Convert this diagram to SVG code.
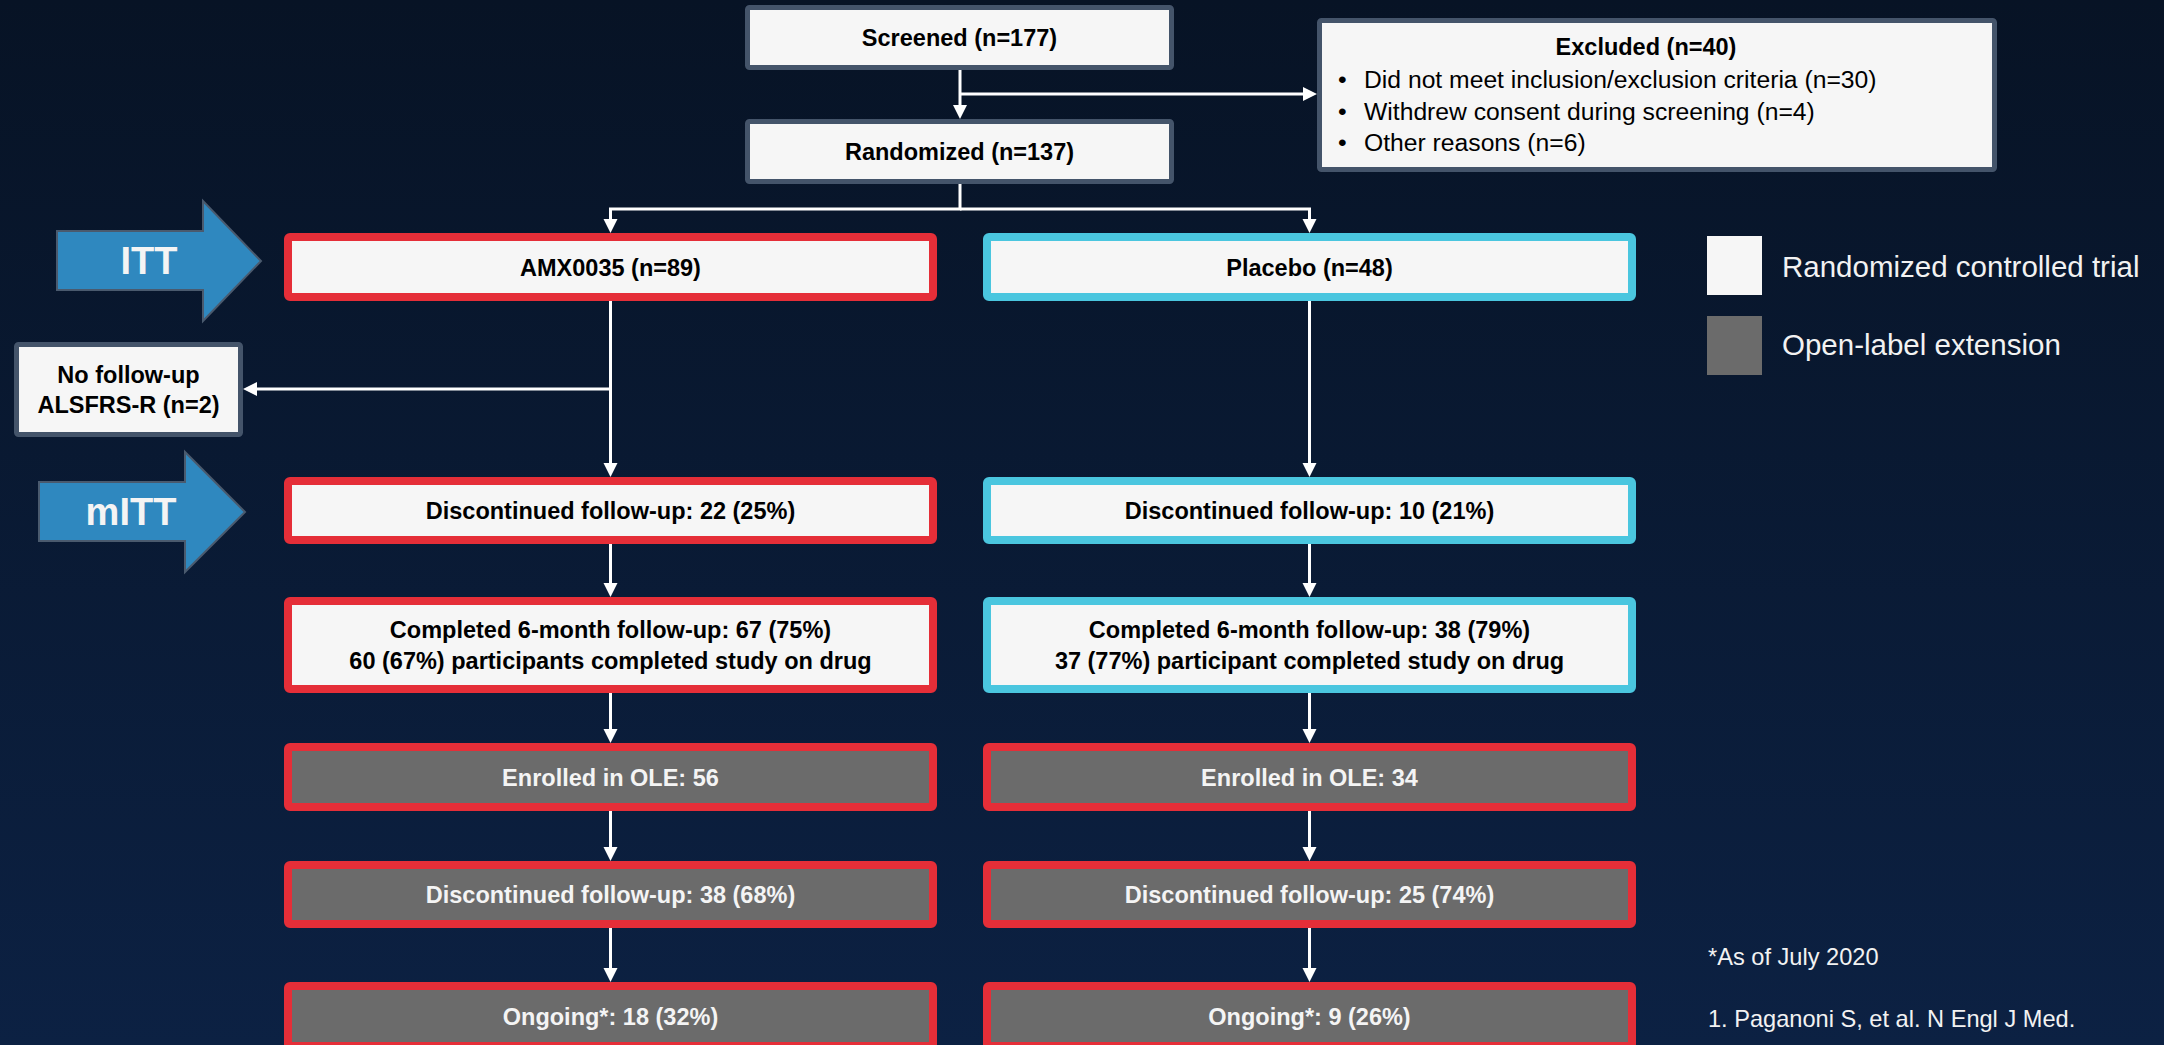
<svg xmlns="http://www.w3.org/2000/svg" width="2164" height="1045" viewBox="0 0 2164 1045">
<defs>
<linearGradient id="bg" x1="0" y1="0" x2="0" y2="1">
<stop offset="0" stop-color="#071325"/>
<stop offset="1" stop-color="#0c2143"/>
</linearGradient>
<marker id="ah" markerUnits="userSpaceOnUse" markerWidth="16" markerHeight="16" refX="8" refY="7" orient="auto">
<path d="M0,0 L14,7 L0,14 z" fill="#ffffff"/>
</marker>
<style>
text{font-family:"Liberation Sans",Arial,sans-serif}
.b{font-weight:bold;font-size:23.5px;text-anchor:middle}
.dk{fill:#000000}
.lt{fill:#f4f4f4}
.gbox{fill:#f6f6f6;stroke:#44546a;stroke-width:5}
.rw{fill:#f6f6f6;stroke:#e52e38;stroke-width:8}
.cw{fill:#f6f6f6;stroke:#4ac6df;stroke-width:8}
.rg{fill:#6b6b6b;stroke:#e52e38;stroke-width:8}
.conn{fill:none;stroke:#ffffff;stroke-width:3;marker-end:url(#ah)}
.blk{fill:#2f88bf;stroke:#4a5a6e;stroke-width:2}
.big{font-weight:bold;font-size:38px;fill:#f4f4f4;text-anchor:middle}
.reg{font-size:24.7px;fill:#000000}
.leg{font-size:29.5px;fill:#f2f2f2}
.fn{font-size:23.6px;fill:#f2f2f2}
</style>
</defs>
<rect x="0" y="0" width="2164" height="1045" fill="url(#bg)"/>

<g id="connectors">
<path class="conn" d="M960,70 V113"/>
<path class="conn" d="M960,94 H1311"/>
<path class="conn" d="M960,184 V209 H610.5 V227"/>
<path class="conn" d="M960,209 H1309.5 V227"/>
<path class="conn" d="M610.5,301 V471"/>
<path class="conn" d="M610.5,389 H249"/>
<path class="conn" d="M610.5,544 V591"/>
<path class="conn" d="M610.5,693 V737"/>
<path class="conn" d="M610.5,811 V855"/>
<path class="conn" d="M610.5,928 V976"/>
<path class="conn" d="M1309.5,301 V471"/>
<path class="conn" d="M1309.5,544 V591"/>
<path class="conn" d="M1309.5,693 V737"/>
<path class="conn" d="M1309.5,811 V855"/>
<path class="conn" d="M1309.5,928 V976"/>
</g>

<g id="screened">
<rect class="gbox" x="747.5" y="7.5" width="424" height="60" rx="2"/>
<text class="b dk" x="959.5" y="46">Screened (n=177)</text>
</g>
<g id="randomized">
<rect class="gbox" x="747.5" y="121.5" width="424" height="60" rx="2"/>
<text class="b dk" x="959.5" y="160">Randomized (n=137)</text>
</g>
<g id="excluded">
<rect class="gbox" x="1319.5" y="20.5" width="675" height="149" rx="2"/>
<text class="b dk" x="1646" y="55">Excluded (n=40)</text>
<text class="reg" x="1338" y="88">•</text>
<text class="reg" x="1364" y="88">Did not meet inclusion/exclusion criteria (n=30)</text>
<text class="reg" x="1338" y="119.5">•</text>
<text class="reg" x="1364" y="119.5">Withdrew consent during screening (n=4)</text>
<text class="reg" x="1338" y="151">•</text>
<text class="reg" x="1364" y="151">Other reasons (n=6)</text>
</g>

<g id="itt">
<polygon class="blk" points="57,231 203,231 203,201 261,261 203,321 203,290 57,290"/>
<text class="big" x="149" y="274">ITT</text>
</g>
<g id="mitt">
<polygon class="blk" points="39,482 185,482 185,452 245,512 185,572 185,541 39,541"/>
<text class="big" x="131" y="525">mITT</text>
</g>

<g id="nofollowup">
<rect class="gbox" x="16.5" y="344.5" width="224" height="90" rx="2"/>
<text class="b dk" x="128.5" y="383">No follow-up</text>
<text class="b dk" x="128.5" y="413">ALSFRS-R (n=2)</text>
</g>

<g id="amx">
<rect class="rw" x="288" y="237" width="645" height="60" rx="2"/>
<text class="b dk" x="610.5" y="275.5">AMX0035 (n=89)</text>
</g>
<g id="placebo">
<rect class="cw" x="987" y="237" width="645" height="60" rx="2"/>
<text class="b dk" x="1309.5" y="275.5">Placebo (n=48)</text>
</g>
<g id="amx-disc">
<rect class="rw" x="288" y="481" width="645" height="59" rx="2"/>
<text class="b dk" x="610.5" y="519">Discontinued follow-up: 22 (25%)</text>
</g>
<g id="pbo-disc">
<rect class="cw" x="987" y="481" width="645" height="59" rx="2"/>
<text class="b dk" x="1309.5" y="519">Discontinued follow-up: 10 (21%)</text>
</g>
<g id="amx-comp">
<rect class="rw" x="288" y="601" width="645" height="88" rx="2"/>
<text class="b dk" x="610.5" y="638">Completed 6-month follow-up: 67 (75%)</text>
<text class="b dk" x="610.5" y="669">60 (67%) participants completed study on drug</text>
</g>
<g id="pbo-comp">
<rect class="cw" x="987" y="601" width="645" height="88" rx="2"/>
<text class="b dk" x="1309.5" y="638">Completed 6-month follow-up: 38 (79%)</text>
<text class="b dk" x="1309.5" y="669">37 (77%) participant completed study on drug</text>
</g>
<g id="amx-ole">
<rect class="rg" x="288" y="747" width="645" height="60" rx="2"/>
<text class="b lt" x="610.5" y="785.5">Enrolled in OLE: 56</text>
</g>
<g id="pbo-ole">
<rect class="rg" x="987" y="747" width="645" height="60" rx="2"/>
<text class="b lt" x="1309.5" y="785.5">Enrolled in OLE: 34</text>
</g>
<g id="amx-ole-disc">
<rect class="rg" x="288" y="865" width="645" height="59" rx="2"/>
<text class="b lt" x="610.5" y="903">Discontinued follow-up: 38 (68%)</text>
</g>
<g id="pbo-ole-disc">
<rect class="rg" x="987" y="865" width="645" height="59" rx="2"/>
<text class="b lt" x="1309.5" y="903">Discontinued follow-up: 25 (74%)</text>
</g>
<g id="amx-ongoing">
<rect class="rg" x="288" y="986" width="645" height="60" rx="2"/>
<text class="b lt" x="610.5" y="1024.5">Ongoing*: 18 (32%)</text>
</g>
<g id="pbo-ongoing">
<rect class="rg" x="987" y="986" width="645" height="60" rx="2"/>
<text class="b lt" x="1309.5" y="1024.5">Ongoing*: 9 (26%)</text>
</g>

<g id="legend">
<rect x="1707" y="236" width="55" height="59" fill="#f6f6f6"/>
<text class="leg" x="1782" y="277">Randomized controlled trial</text>
<rect x="1707" y="316" width="55" height="59" fill="#6b6b6b"/>
<text class="leg" x="1782" y="355">Open-label extension</text>
</g>

<g id="footnotes">
<text class="fn" x="1708" y="965">*As of July 2020</text>
<text class="fn" x="1708" y="1027">1. Paganoni S, et al. N Engl J Med.</text>
</g>
</svg>
